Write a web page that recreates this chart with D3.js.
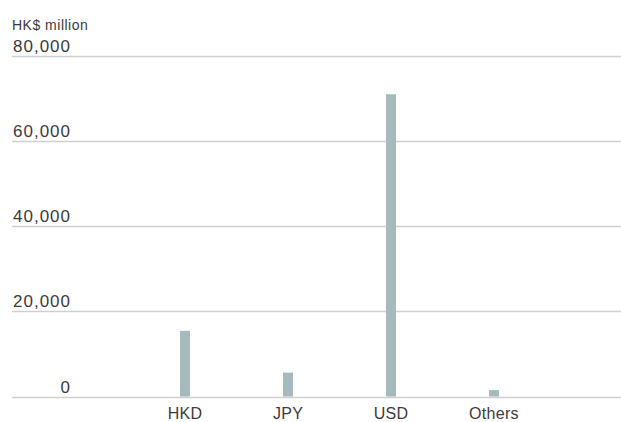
<!DOCTYPE html>
<html>
<head>
<meta charset="utf-8">
<script src="https://cdn.jsdelivr.net/npm/d3@7"></script>
<style>
  html, body { margin: 0; padding: 0; background: #fff; }
  svg { display: block; }
  text { font-family: "Liberation Sans", "Helvetica Neue", Arial, sans-serif; fill: #3d3a3a; }
</style>
</head>
<body>
<svg id="chart" width="621" height="422"></svg>
<script>
const categories = ["HKD", "JPY", "USD", "Others"];
const values = [15400, 5600, 70900, 1500];
const yTicks = [0, 20000, 40000, 60000, 80000];
const unitLabel = "HK$ million";

const svg = d3.select("#chart");
const gridLeft = 12, gridRight = 621;
const y = d3.scaleLinear().domain([0, 80000]).range([396.5, 55.5]);
const x = d3.scalePoint().domain(categories).range([185, 494]);
const barW = 10;

// gridlines
svg.append("g").selectAll("line").data(yTicks).join("line")
  .attr("x1", gridLeft).attr("x2", gridRight)
  .attr("y1", d => Math.round(y(d)) + 0.5).attr("y2", d => Math.round(y(d)) + 0.5)
  .attr("stroke", "#cfcfcf").attr("stroke-width", 1.5);

// y tick labels
const fmt = d3.format(",");
svg.append("g").selectAll("text").data(yTicks).join("text")
  .attr("x", 71).attr("y", d => y(d) - 4)
  .attr("text-anchor", "end")
  .style("font-size", "17px").style("letter-spacing", "1px")
  .text(d => fmt(d));

// unit label
svg.append("text").attr("x", 12).attr("y", 30)
  .style("font-size", "14px").style("letter-spacing", "0.5px")
  .text(unitLabel);

// bars
svg.append("g").selectAll("rect").data(values).join("rect")
  .attr("x", (d, i) => x(categories[i]) - barW / 2)
  .attr("width", barW)
  .attr("y", d => y(d))
  .attr("height", d => y(0) - y(d))
  .attr("fill", "#a6babd");

// x labels
svg.append("g").selectAll("text").data(categories).join("text")
  .attr("x", d => x(d)).attr("y", 419)
  .attr("text-anchor", "middle")
  .style("font-size", "16px").style("letter-spacing", "0.3px")
  .text(d => d);
</script>
</body>
</html>
